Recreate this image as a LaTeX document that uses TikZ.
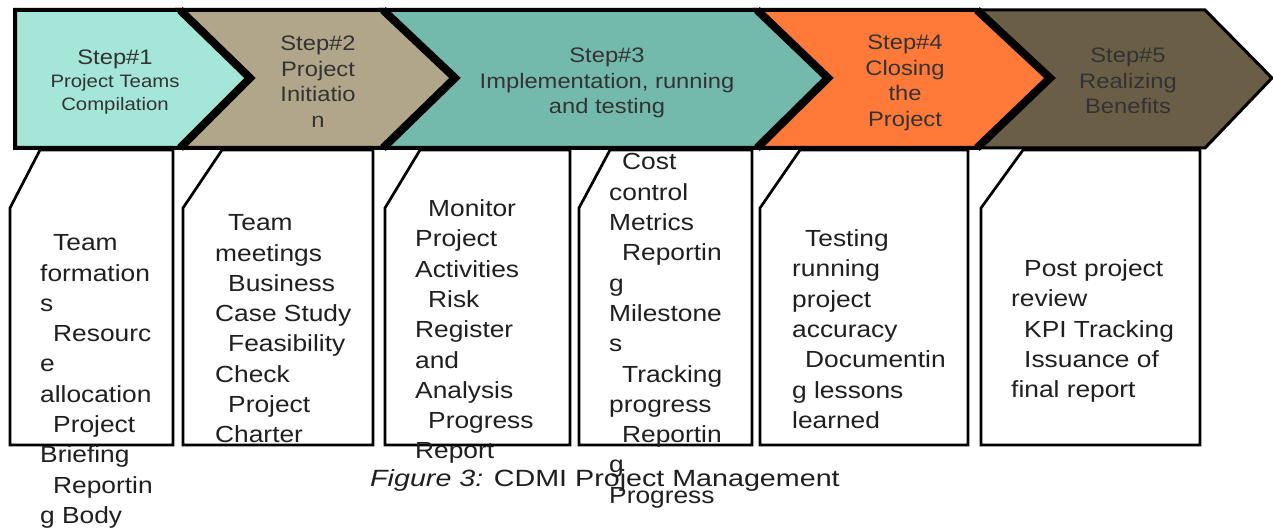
\documentclass[tikz,border=0pt]{standalone}
\usepackage{fontspec}
\setmainfont{Liberation Sans}
\newfontfamily\boxfont[FakeStretch=1.13]{Liberation Sans}
\newfontfamily\capfont[FakeStretch=1.22]{Liberation Sans}
\definecolor{stepA}{HTML}{A4E6D8}
\definecolor{stepB}{HTML}{B2A68A}
\definecolor{stepC}{HTML}{74BAAC}
\definecolor{stepD}{HTML}{FF7A38}
\definecolor{stepE}{HTML}{6A5E46}
\newcommand{\stepind}{\hspace*{13pt}}
\begin{document}
\begin{tikzpicture}[x=1pt, y=-1pt,
  chev/.style={draw=black, line width=4pt, line join=miter},
  sep/.style={draw=black, line width=8pt, line join=miter},
  caja/.style={draw=black, line width=2.7pt, fill=white},
  steptext/.style={anchor=north, align=center, inner sep=0pt, text=black!80,
    font=\boxfont\fontsize{21}{25.7}\selectfont},
  boxtext/.style={anchor=north west, align=left, inner sep=0pt, text=black!88,
    font=\boxfont\fontsize{23.3}{30.3}\selectfont}]
\useasboundingbox[fill=white] (0,0) rectangle (1273,529);

% Cajas de actividades
\draw[caja] (10,208) -- (40,150) -- (173,150) -- (173,445) -- (10,445) -- cycle;
\draw[caja] (183,208) -- (222,150) -- (373,150) -- (373,445) -- (183,445) -- cycle;
\draw[caja] (385,208) -- (420,150) -- (570,150) -- (570,445) -- (385,445) -- cycle;
\draw[caja] (579,208) -- (610,150) -- (752,150) -- (752,445) -- (579,445) -- cycle;
\draw[caja] (760,208) -- (800,150) -- (968,150) -- (968,445) -- (760,445) -- cycle;
\draw[caja] (981,208) -- (1023,150) -- (1200,150) -- (1200,445) -- (981,445) -- cycle;

% Flechas de los pasos
\draw[chev, fill=stepA] (15,10) -- (180,10) -- (250,78) -- (180,148) -- (15,148) -- cycle;
\draw[chev, fill=stepB] (180,10) -- (383,10) -- (455,78) -- (383,148) -- (180,148) -- (250,78) -- cycle;
\draw[chev, fill=stepC] (383,10) -- (757,10) -- (828,78) -- (757,148) -- (383,148) -- (455,78) -- cycle;
\draw[chev, fill=stepD] (757,10) -- (977,10) -- (1050,78) -- (977,148) -- (757,148) -- (828,78) -- cycle;
\draw[chev, line width=3pt, fill=stepE] (977,10) -- (1205,10) -- (1272,78) -- (1205,148) -- (977,148) -- (1050,78) -- cycle;

% Bordes gruesos entre pasos
\draw[sep] (180,10) -- (250,78) -- (180,148);
\draw[sep] (383,10) -- (455,78) -- (383,148);
\draw[sep] (757,10) -- (828,78) -- (757,148);
\draw[sep] (977,10) -- (1050,78) -- (977,148);

% Textos de los pasos
\node[steptext, font=\boxfont\fontsize{18}{23}\selectfont] (step1) at (115,49.5)
  {{\fontsize{21}{23}\selectfont Step\#1}\\Project Teams\\Compilation};
\node[steptext] (step2) at (318,35.5) {Step\#2\\Project\\Initiatio\\n};
\node[steptext] (step3) at (607,47.5) {Step\#3\\Implementation, running\\and testing};
\node[steptext] (step4) at (905,34.5) {Step\#4\\Closing\\the\\Project};
\node[steptext] (step5) at (1128,47.5) {Step\#5\\Realizing\\Benefits};

% Listas de actividades
\node[boxtext] (list1) at (40,234.5)
  {\stepind Team\\formation\\s\\\stepind Resourc\\e\\allocation\\\stepind Project\\Briefing\\\stepind Reportin\\g Body};
\node[boxtext] (list2) at (215,214.5)
  {\stepind Team\\meetings\\\stepind Business\\Case Study\\\stepind Feasibility\\Check\\\stepind Project\\Charter};
\node[boxtext] (list3) at (415,199.5)
  {\stepind Monitor\\Project\\Activities\\\stepind Risk\\Register\\and\\Analysis\\\stepind Progress\\Report};
\node[boxtext] (list4) at (609,153.5)
  {\stepind Cost\\control\\Metrics\\\stepind Reportin\\g\\Milestone\\s\\\stepind Tracking\\progress\\\stepind Reportin\\g\\Progress};
\node[boxtext] (list5) at (792,229.5)
  {\stepind Testing\\running\\project\\accuracy\\\stepind Documentin\\g lessons\\learned};
\node[boxtext] (list6) at (1011,259.5)
  {\stepind Post project\\review\\\stepind KPI Tracking\\\stepind Issuance of\\final report};

% Pie de figura
\node[anchor=base west, inner sep=0pt, text=black!88, font=\capfont\fontsize{23.5}{28}\selectfont]
  (caption) at (370,486.5) {\textit{Figure 3:} CDMI Project Management};

\end{tikzpicture}
\end{document}
